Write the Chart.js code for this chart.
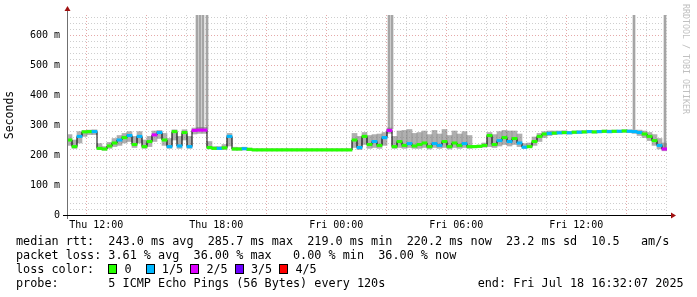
<!DOCTYPE html>
<html>
<head>
<meta charset="utf-8">
<script src="https://cdn.jsdelivr.net/npm/chart.js@4.4.1/dist/chart.umd.min.js"></script>
<style>
  html, body { margin: 0; padding: 0; background: #fff; }
  #wrap { position: relative; width: 697px; height: 297px; overflow: hidden; }
  canvas { position: absolute; left: 0; top: 0; }
  .txt { position: absolute; left: 16px; font-family: 'DejaVu Sans Mono', monospace; font-size: 11.8px; line-height: 14px; white-space: pre; color: #000; }
  .bx { display: inline-block; width: 7px; height: 8px; border: 1px solid #000; vertical-align: -1px; }
  #rrd { position: absolute; left: 681px; top: 4px; writing-mode: vertical-rl; font-family: 'DejaVu Sans Mono', monospace; font-size: 8.3px; color: #c0c0c0; white-space: pre; }
</style>
</head>
<body>
<div id="wrap">
  <canvas id="chart" width="697" height="297"></canvas>
  <div id="rrd">RRDTOOL / TOBI OETIKER</div>
  <div class="txt" style="top:234px">median rtt:  243.0 ms avg  285.7 ms max  219.0 ms min  220.2 ms now  23.2 ms sd  10.5   am/s</div>
  <div class="txt" style="top:248px">packet loss: 3.61 % avg  36.00 % max   0.00 % min  36.00 % now</div>
  <div class="txt" style="top:262px">loss color:  <span class="bx" style="background:#26ff00"></span> 0  <span class="bx" style="background:#00b8ff"></span> 1/5 <span class="bx" style="background:#dd00ff"></span> 2/5 <span class="bx" style="background:#6a00ff"></span> 3/5 <span class="bx" style="background:#ff0000"></span> 4/5</div>
  <div class="txt" style="top:276px">probe:       5 ICMP Echo Pings (56 Bytes) every 120s             end: Fri Jul 18 16:32:07 2025</div>
</div>
<script>
// Time axis: hours since Thu 10:32:07, 30 hours shown, one bin every 15 min
const startHour = 10 + 32 / 60 + 7 / 3600;
const spanHours = 30;
const binHours = 0.25;
const xLabels = ['Thu 12:00', 'Thu 18:00', 'Fri 00:00', 'Fri 06:00', 'Fri 12:00'];
const yLabelVals = [0, 100, 200, 300, 400, 500, 600];

// median rtt per bin (ms)
const median = [
  250, 228, 262, 277, 278, 278, 222, 220, 230, 240,
  250, 258, 265, 235, 262, 228, 245, 267, 275, 250,
  228, 278, 230, 275, 228, 282, 283, 283, 225, 222,
  222, 224, 262, 220, 220, 221, 219, 217, 217, 217,
  217, 217, 217, 217, 217, 217, 217, 217, 217, 217,
  217, 217, 217, 217, 217, 217, 217, 250, 225, 262,
  235, 245, 232, 258, 282, 228, 245, 232, 238, 230,
  235, 240, 228, 238, 232, 245, 228, 240, 232, 238,
  228, 228, 229, 232, 265, 235, 248, 258, 245, 255,
  240, 226, 228, 245, 262, 270, 272, 273, 274, 275,
  274, 276, 276, 277, 278, 277, 278, 279, 278, 279,
  279, 280, 279, 278, 275, 270, 262, 248, 232, 220
];

// lost pings out of 5 per bin
const loss = [
  0, 0, 1, 0, 0, 1, 0, 0, 0, 0,
  1, 0, 1, 0, 1, 0, 0, 2, 1, 0,
  1, 0, 1, 0, 1, 2, 2, 2, 0, 0,
  1, 0, 1, 0, 0, 1, 0, 0, 0, 0,
  0, 0, 0, 0, 0, 0, 0, 0, 0, 0,
  0, 0, 0, 0, 0, 0, 0, 0, 1, 0,
  0, 1, 0, 1, 2, 0, 0, 0, 1, 0,
  0, 0, 0, 1, 1, 0, 0, 0, 0, 1,
  0, 0, 0, 0, 0, 0, 1, 0, 1, 0,
  1, 1, 0, 0, 0, 0, 1, 0, 1, 0,
  1, 0, 1, 0, 1, 0, 1, 0, 1, 0,
  1, 0, 1, 1, 1, 0, 0, 0, 1, 2
];

// smoke: lowest and highest ping per bin (ms)
const smokeLo = [
  232, 222, 240, 262, 268, 268, 218, 216, 222, 228,
  232, 240, 245, 225, 240, 222, 228, 245, 255, 232,
  222, 250, 222, 250, 222, 270, 272, 272, 220, 218,
  218, 218, 230, 216, 216, 217, 215, 214, 214, 214,
  214, 214, 214, 214, 214, 214, 214, 214, 214, 214,
  214, 214, 214, 214, 214, 214, 214, 225, 218, 235,
  222, 225, 222, 232, 272, 222, 225, 222, 225, 222,
  222, 225, 220, 225, 222, 225, 220, 225, 222, 225,
  222, 224, 225, 226, 228, 225, 230, 235, 230, 235,
  228, 222, 224, 232, 245, 258, 265, 268, 270, 270,
  270, 271, 272, 273, 274, 273, 274, 275, 274, 275,
  275, 276, 275, 272, 265, 258, 248, 232, 220, 214
];
const smokeHi = [
  268, 250, 278, 282, 283, 284, 238, 228, 242, 255,
  265, 272, 278, 262, 278, 250, 262, 280, 282, 272,
  255, 284, 262, 284, 262, 290, 292, 292, 245, 228,
  228, 235, 272, 226, 225, 226, 223, 221, 221, 221,
  221, 221, 221, 221, 221, 221, 221, 221, 221, 221,
  221, 221, 221, 221, 221, 221, 221, 272, 262, 275,
  265, 268, 270, 275, 290, 262, 280, 282, 285, 272,
  275, 280, 268, 282, 270, 285, 265, 280, 270, 278,
  265, 232, 233, 240, 275, 268, 278, 282, 280, 280,
  270, 238, 240, 260, 272, 278, 280, 280, 280, 281,
  279, 280, 281, 281, 282, 281, 282, 283, 283, 283,
  283, 284, 284, 283, 283, 280, 275, 268, 255, 240
];

// single outliers that run off the top of the graph
const spikeTimes = [6.5, 6.65, 6.8, 7.0, 16.1, 16.25, 28.35, 29.9];
const spikeBase = [285, 285, 285, 285, 288, 288, 285, 220];

const lossColors = ['#26ff00', '#00b8ff', '#dd00ff', '#6a00ff', '#ff0000'];
const yMax = 666.7;

const binTime = median.map((_, i) => i * binHours + binHours / 2);

const axisArrows = {
  id: 'axisArrows',
  afterDraw(chart) {
    const { ctx, chartArea: a } = chart;
    ctx.save();
    ctx.lineWidth = 1;
    ctx.strokeStyle = '#707070';
    ctx.beginPath(); ctx.moveTo(a.left + 0.5, a.bottom + 4); ctx.lineTo(a.left + 0.5, a.top - 6); ctx.stroke();
    ctx.strokeStyle = '#000';
    ctx.beginPath(); ctx.moveTo(a.left - 4, a.bottom + 0.5); ctx.lineTo(a.right + 4, a.bottom + 0.5); ctx.stroke();
    ctx.fillStyle = '#a01010';
    ctx.beginPath(); ctx.moveTo(a.left + 0.5, a.top - 9); ctx.lineTo(a.left - 2.5, a.top - 4); ctx.lineTo(a.left + 3.5, a.top - 4); ctx.fill();
    ctx.beginPath(); ctx.moveTo(a.right + 9, a.bottom + 0.5); ctx.lineTo(a.right + 4, a.bottom - 2.5); ctx.lineTo(a.right + 4, a.bottom + 3.5); ctx.fill();
    ctx.restore();
  }
};

const majorX = v => Math.round(startHour + v) % 3 === 0;
const majorY = v => v % 100 === 0;
const gridRed = 'rgba(220,140,140,0.75)';
const gridGray = 'rgba(190,190,190,0.75)';

new Chart(document.getElementById('chart'), {
  type: 'bar',
  data: {
    datasets: [
      {
        type: 'line',
        data: binTime.map((t, i) => ({ x: t, y: median[i] })),
        stepped: 'middle',
        borderColor: '#000',
        borderWidth: 1,
        pointRadius: 0,
        order: 2
      },
      {
        data: binTime.map((t, i) => ({ x: t, y: [median[i] - 4, median[i] + 4] })),
        backgroundColor: loss.map(l => lossColors[l]),
        barThickness: 5,
        grouped: false,
        order: 1
      },
      {
        data: binTime.map((t, i) => ({ x: t, y: [smokeLo[i], smokeHi[i]] })),
        backgroundColor: 'rgba(110,110,110,0.55)',
        barThickness: 5,
        grouped: false,
        order: 3
      },
      {
        data: spikeTimes.map((t, i) => ({ x: t, y: [spikeBase[i], 700] })),
        backgroundColor: '#a5a5a5',
        barThickness: 2,
        grouped: false,
        order: 4
      }
    ]
  },
  options: {
    responsive: false,
    animation: false,
    layout: { padding: { top: 15, right: 30, left: 0, bottom: 0 } },
    plugins: { legend: { display: false }, tooltip: { enabled: false } },
    scales: {
      x: {
        type: 'linear',
        min: 0,
        max: spanHours,
        offset: false,
        afterFit: s => { s.height = 82; },
        afterBuildTicks: s => {
          const ticks = [];
          for (let v = Math.ceil(startHour) - startHour; v <= spanHours; v += 1) ticks.push({ value: v });
          s.ticks = ticks;
        },
        ticks: {
          autoSkip: false,
          maxRotation: 0,
          padding: 4,
          color: '#000',
          font: { family: 'DejaVu Sans Mono', size: 10 },
          callback: v => {
            const c = Math.round(startHour + v);
            if (c % 6 !== 0) return '';
            return xLabels[(c - 12) / 6] || '';
          }
        },
        grid: {
          drawTicks: false,
          color: ctx => (ctx.tick && majorX(ctx.tick.value)) ? gridRed : gridGray
        },
        border: { display: false, dash: [1, 2] }
      },
      y: {
        min: 0,
        max: yMax,
        afterFit: s => { s.width = 67; },
        afterBuildTicks: s => {
          const ticks = [];
          for (let v = 0; v <= yMax; v += 20) ticks.push({ value: v });
          s.ticks = ticks;
        },
        ticks: {
          autoSkip: false,
          padding: 7,
          color: '#000',
          font: { family: 'DejaVu Sans Mono', size: 10 },
          callback: v => yLabelVals.includes(v) ? (v === 0 ? '0' : v + ' m') : ''
        },
        grid: {
          drawTicks: false,
          color: ctx => (ctx.tick && majorY(ctx.tick.value)) ? gridRed : gridGray
        },
        border: { display: false, dash: [1, 2] },
        title: {
          display: true,
          text: 'Seconds',
          color: '#000',
          padding: { top: 3, bottom: 0 },
          font: { family: 'DejaVu Sans Mono', size: 11.5 }
        }
      }
    }
  },
  plugins: [axisArrows]
});
</script>
</body>
</html>
